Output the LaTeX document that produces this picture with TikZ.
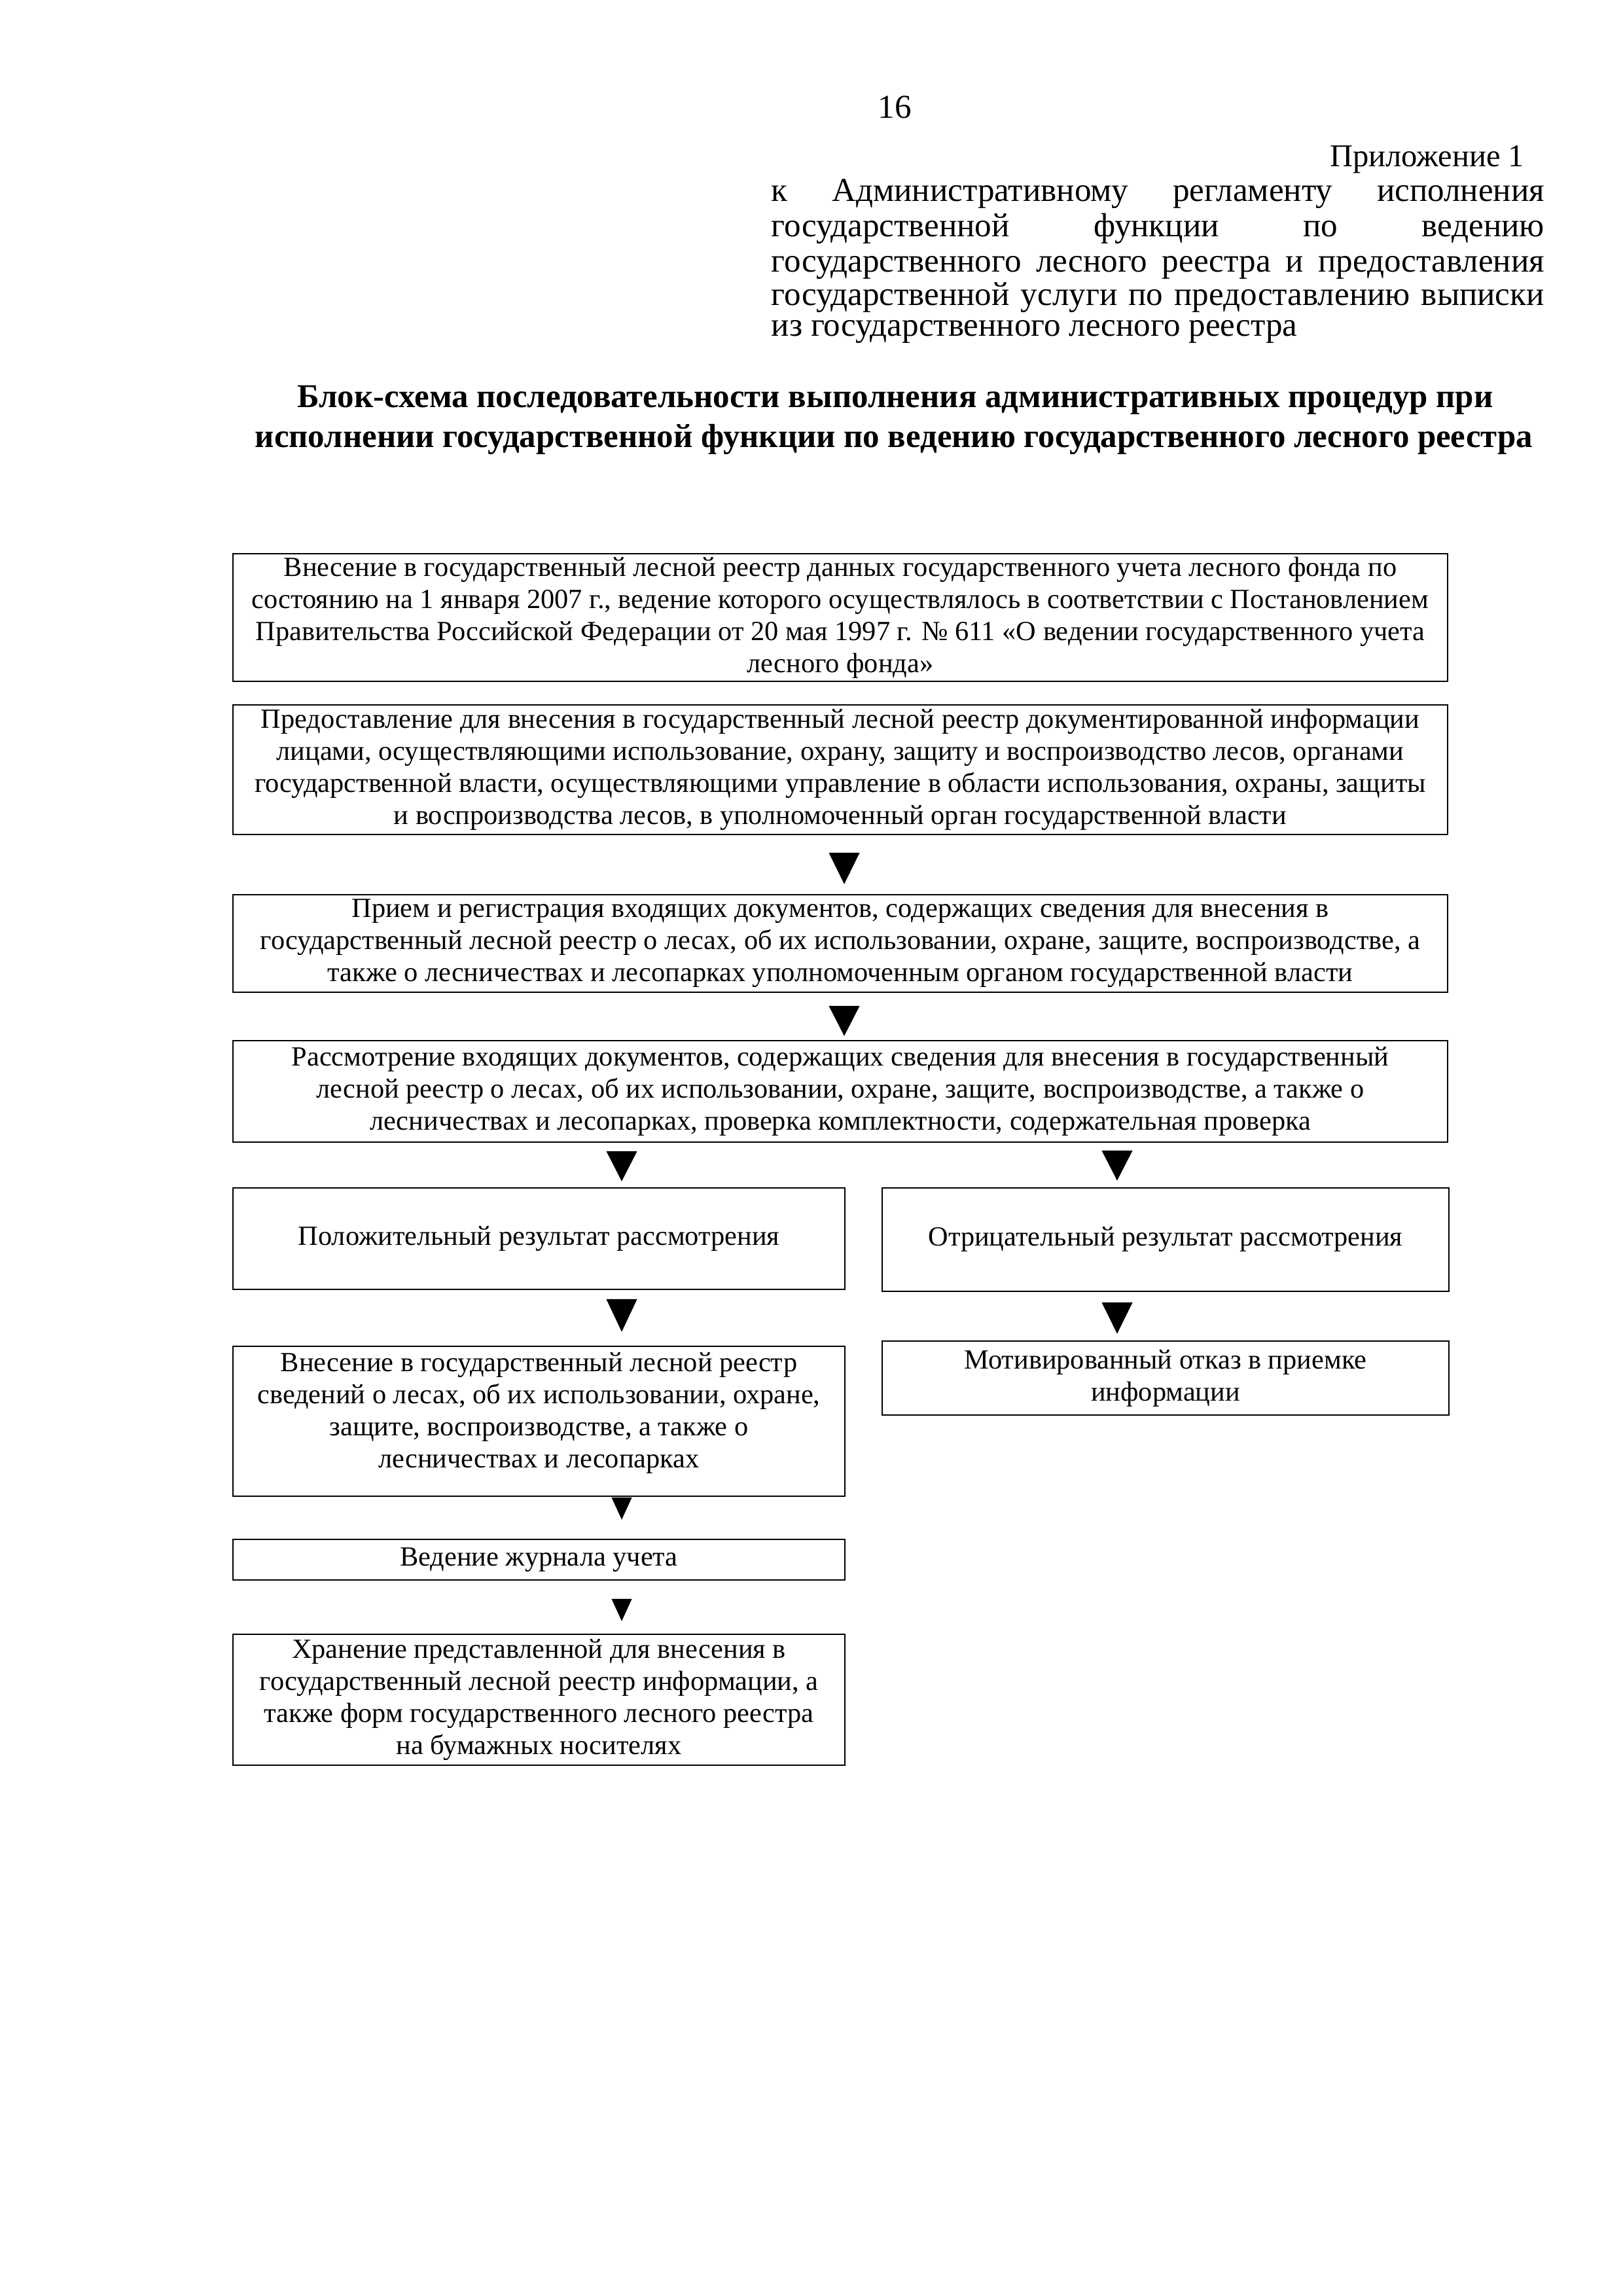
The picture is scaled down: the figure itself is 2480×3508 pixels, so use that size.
\documentclass[tikz,border=0pt]{standalone}
\usepackage{fontspec}
\setmainfont{Liberation Serif}
\usetikzlibrary{arrows.meta}
\newcommand\hfont{\fontsize{12.3pt}{12.5pt}\selectfont}
\newcommand\pfont{\fontsize{11.7pt}{12.5pt}\selectfont}
\newcommand\tfont{\fontsize{12.25pt}{14.5pt}\selectfont\bfseries}
\newcommand\bfnt{\fontsize{10.2pt}{11.8pt}\selectfont}
\newcommand\bx[6]{\node[box, minimum width={(#4-#2)*0.2409pt}, minimum height={(#5-#3)*0.2409pt}] (#1) at ({(#2+#4)/2},{(#3+#5)/2}) {#6};}
\newcommand\arr[7]{\draw[conn, -{Triangle[width=#7*0.2409pt, length=#5*0.2409pt]}, shorten <=#4*0.2409pt, shorten >=#6*0.2409pt] (#1.south -| #3) -- (#2.north -| #3);}
\begin{document}
\begin{tikzpicture}[x=0.2409pt, y=-0.2409pt,
  box/.style={draw, line width=0.6pt, inner sep=0pt, align=center, font=\bfnt},
  txt/.style={inner sep=0pt},
  conn/.style={line width=0.2pt}]
\useasboundingbox (0,0) rectangle (2480,3508);
\fill[white] (0,0) rectangle (2480,3508);
% page number and header
\node[txt, anchor=base, font=\hfont] (pg) at (1367,180) {16};
\node[txt, anchor=base east, font=\pfont] (h0) at (2330,254) {Приложение 1};
\node[txt, anchor=base west, font=\hfont] (h1) at (1178,307) {\makebox[284.5pt][s]{к Административному регламенту исполнения}};
\node[txt, anchor=base west, font=\hfont] (h2) at (1178,361) {\makebox[284.5pt][s]{государственной функции по ведению}};
\node[txt, anchor=base west, font=\hfont] (h3) at (1178,415) {\makebox[284.5pt][s]{государственного лесного реестра и предоставления}};
\node[txt, anchor=base west, font=\hfont] (h4) at (1178,466) {\makebox[284.5pt][s]{государственной услуги по предоставлению выписки}};
\node[txt, anchor=base west, font=\hfont] (h5) at (1178,513) {из государственного лесного реестра};
% title
\node[txt, anchor=base, font=\tfont] (t1) at (1368,622) {Блок-схема последовательности выполнения административных процедур при};
\node[txt, anchor=base, font=\tfont] (t2) at (1366,683) {исполнении государственной функции по ведению государственного лесного реестра};
% boxes
\bx{b1}{356}{846}{2212}{1041}{Внесение в государственный лесной реестр данных государственного учета лесного фонда по\\состоянию на 1 января 2007 г., ведение которого осуществлялось в соответствии с Постановлением\\Правительства Российской Федерации от 20 мая 1997 г. № 611 «О ведении государственного учета\\лесного фонда»}
\bx{b2}{356}{1077}{2212}{1275}{Предоставление для внесения в государственный лесной реестр документированной информации\\лицами, осуществляющими использование, охрану, защиту и воспроизводство лесов, органами\\государственной власти, осуществляющими управление в области использования, охраны, защиты\\и воспроизводства лесов, в уполномоченный орган государственной власти}
\bx{b3}{356}{1367}{2212}{1516}{Прием и регистрация входящих документов, содержащих сведения для внесения в\\государственный лесной реестр о лесах, об их использовании, охране, защите, воспроизводстве, а\\также о лесничествах и лесопарках уполномоченным органом государственной власти}
\bx{b4}{356}{1590}{2212}{1745}{Рассмотрение входящих документов, содержащих сведения для внесения в государственный\\лесной реестр о лесах, об их использовании, охране, защите, воспроизводстве, а также о\\лесничествах и лесопарках, проверка комплектности, содержательная проверка}
\bx{b5}{356}{1815}{1291}{1970}{Положительный результат рассмотрения}
\bx{b6}{1348}{1815}{2214}{1973}{Отрицательный результат рассмотрения}
\bx{b7}{356}{2057}{1291}{2286}{Внесение в государственный лесной реестр\\сведений о лесах, об их использовании, охране,\\защите, воспроизводстве, а также о\\лесничествах и лесопарках\rule[-8pt]{0pt}{8pt}}
\bx{b8}{1348}{2049}{2214}{2162}{Мотивированный отказ в приемке\\информации}
\bx{b9}{356}{2352}{1291}{2414}{Ведение журнала учета}
\bx{b10}{356}{2497}{1291}{2697}{Хранение представленной для внесения в\\государственный лесной реестр информации, а\\также форм государственного лесного реестра\\на бумажных носителях}
% connector columns
\coordinate (cm) at (1290,0);
\coordinate (cl) at (950,0);
\coordinate (cr) at (1707,0);
% connectors
\arr{b2}{b3}{cm}{29}{48}{15}{47}
\arr{b3}{b4}{cm}{22}{46}{6}{47}
\arr{b4}{b5}{cl}{15}{46}{9}{47}
\arr{b4}{b6}{cr}{14}{46}{10}{47}
\arr{b5}{b7}{cl}{16}{50}{21}{47}
\arr{b6}{b8}{cr}{18}{48}{10}{47}
\arr{b7}{b9}{cl}{3}{34}{29}{31}
\arr{b9}{b10}{cl}{30}{34}{19}{31}
\end{tikzpicture}
\end{document}
